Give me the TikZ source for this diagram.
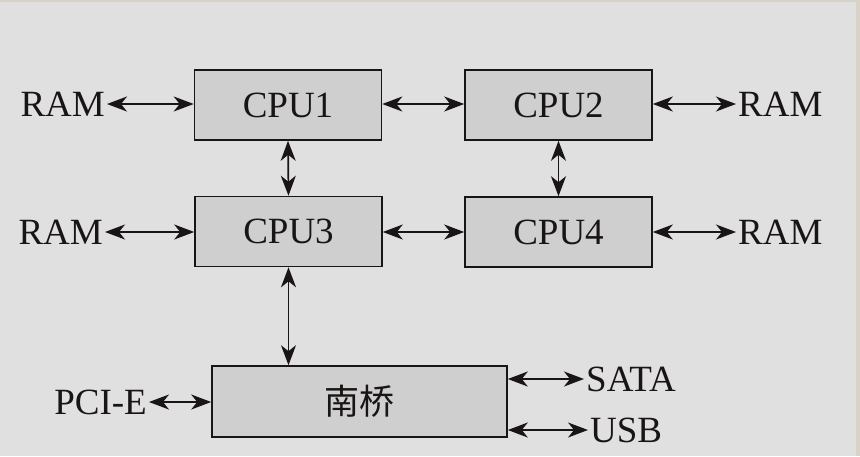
\documentclass[tikz,border=0pt]{standalone}
\usepackage{fontspec}
\setmainfont{Liberation Serif}
\newfontfamily\cjk{Noto Sans CJK SC}
\usetikzlibrary{arrows.meta}
\definecolor{bgc}{HTML}{E0E0E0}
\definecolor{boxc}{HTML}{CFCFCF}
\definecolor{edgec}{HTML}{D8D3C6}
\definecolor{inkc}{HTML}{1A1515}
\tikzset{
  unit/.style={draw=inkc, line width=1.6pt, fill=boxc, minimum width=187pt, minimum height=70pt, inner sep=0pt, text=inkc, font=\fontsize{37}{42}\selectfont},
  lbl/.style={inner sep=2pt, text=inkc, font=\fontsize{37}{42}\selectfont},
  link/.style={draw=inkc, line width=1.7pt, {Stealth[length=20pt,width=15pt,inset=6pt]}-{Stealth[length=20pt,width=15pt,inset=6pt]}}
}
\begin{document}
\begin{tikzpicture}[x=1pt,y=-1pt]
\useasboundingbox (0,0) rectangle (860,456);
\fill[bgc] (0,0) rectangle (860,456);
\fill[edgec] (0,0) rectangle (860,1.5);
\fill[edgec] (856,0) rectangle (860,456);

\node[unit] (cpu1) at (288,105) {CPU1};
\node[unit] (cpu2) at (558.5,105) {CPU2};
\node[unit] (cpu3) at (288.5,231.5) {CPU3};
\node[unit] (cpu4) at (558.5,232) {CPU4};
\node[unit, minimum width=295pt, minimum height=71pt, font=\cjk\fontsize{35}{40}\selectfont] (nb) at (359.5,401.5) {南桥};

\node[lbl, anchor=east] (ramA) at (107,104) {RAM};
\node[lbl, anchor=west] (ramB) at (736,104) {RAM};
\node[lbl, anchor=east] (ramC) at (105,232) {RAM};
\node[lbl, anchor=west] (ramD) at (736,232) {RAM};
\node[lbl, anchor=east] (pcie) at (149,402) {PCI-E};
\node[lbl, anchor=west] (sata) at (584,379) {SATA};
\node[lbl, anchor=west] (usb) at (588,430) {USB};

\draw[link] (ramA.east) -- (ramA.east -| cpu1.west);
\draw[link] (cpu1.east |- 0,104) -- (cpu2.west |- 0,104);
\draw[link] (cpu2.east |- ramB.west) -- (ramB.west);
\draw[link] (ramC.east) -- (ramC.east -| cpu3.west);
\draw[link] (cpu3.east |- 0,232) -- (cpu4.west |- 0,232);
\draw[link] (cpu4.east |- ramD.west) -- (ramD.west);
\draw[link] (cpu1.south) -- (cpu3.north);
\draw[link] (cpu2.south) -- (cpu4.north);
\draw[link] (cpu3.south) -- (cpu3.south |- nb.north);
\draw[link] (pcie.east) -- (pcie.east -| nb.west);
\draw[link] (nb.east |- sata.west) -- (sata.west);
\draw[link] (nb.east |- usb.west) -- (usb.west);
\end{tikzpicture}
\end{document}
